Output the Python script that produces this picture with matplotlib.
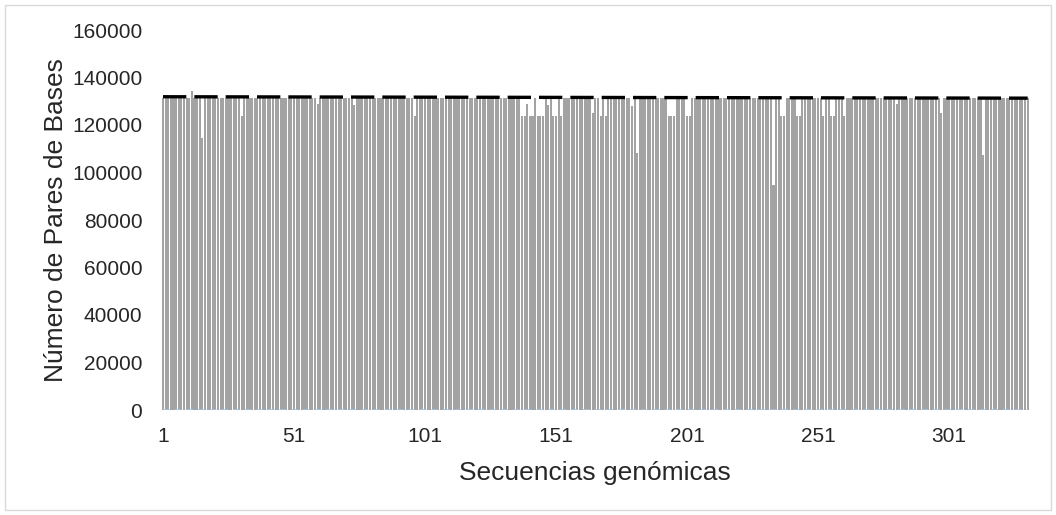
import numpy as np
import matplotlib.pyplot as plt
from matplotlib.patches import Rectangle

# longitudes de las secuencias (pb)
n_seq = 331
base_len = 131300
dip_idx = [12, 16, 31, 60, 74, 97, 138, 139, 140, 141, 142, 144, 145, 146, 148,
           150, 151, 153, 165, 168, 170, 180, 182, 194, 195, 196, 201, 202, 234,
           237, 238, 243, 244, 253, 256, 257, 261, 281, 298, 314]
dip_val = [134300, 114500, 124000, 129000, 128400, 124000, 124000, 124000, 129000,
           124000, 124000, 124000, 124000, 124000, 128500, 124000, 124000, 124000,
           125000, 124000, 124000, 128000, 108200, 124000, 124000, 124000, 124000,
           124000, 94700, 124000, 124000, 124000, 124000, 124000, 124000, 124000,
           124000, 129000, 125000, 107400]

trend_x = [1, n_seq]
trend_y = [131900, 131300]

x_ticks = [1, 51, 101, 151, 201, 251, 301]
y_ticks = [0, 20000, 40000, 60000, 80000, 100000, 120000, 140000, 160000]

seq = np.arange(1, n_seq + 1)
lengths = np.full(n_seq, base_len, dtype=float)
lengths[np.array(dip_idx) - 1] = dip_val

plt.rcParams['font.family'] = ['Liberation Sans', 'DejaVu Sans']

fig = plt.figure(figsize=(10.56, 5.15), dpi=100)
ax = fig.add_axes([161.7 / 1056, 1 - 410 / 515, (1029 - 161.7) / 1056, 380 / 515])

ax.bar(seq, lengths, width=0.8, color='#a3a3a3', linewidth=0, zorder=1)
ax.plot(trend_x, trend_y, color='black', lw=2.4, dashes=(7.0, 2.4), zorder=3)
ax.plot([seq[0], seq[-1]], [0, 0], color='#9dc3e6', lw=1.2, dashes=(4, 3), zorder=2)

ax.set_xlim(0.5, n_seq + 0.5)
ax.set_ylim(0, 160000)
ax.set_xticks(x_ticks)
ax.set_yticks(y_ticks)
ax.tick_params(length=0, labelsize=15, colors='#262626')
ax.tick_params(axis='x', pad=12)
ax.tick_params(axis='y', pad=14)
for s in ax.spines.values():
    s.set_visible(False)

ax.set_xlabel('Secuencias genómicas', fontsize=19, color='#262626', labelpad=11)
ax.set_ylabel('Número de Pares de Bases', fontsize=19, color='#262626', labelpad=3)

fig.patches.append(Rectangle((5 / 1056, 5 / 515), 1 - 10 / 1056, 1 - 10 / 515,
                             transform=fig.transFigure, fill=False,
                             edgecolor='#d9d9d9', lw=1))

fig.savefig('out.png', dpi=100)
